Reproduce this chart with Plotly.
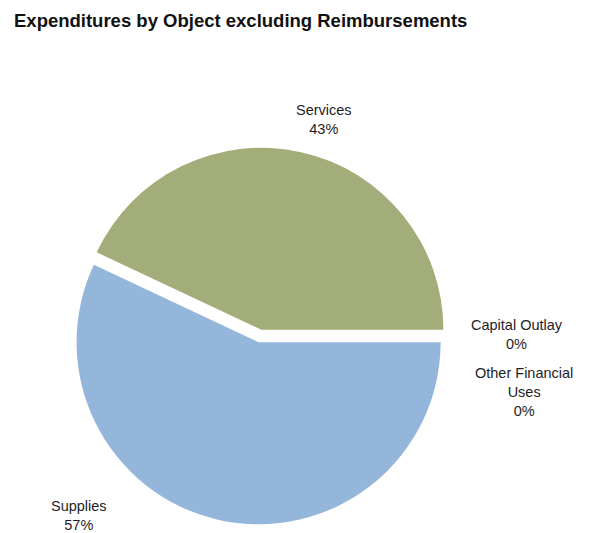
import plotly.graph_objects as go

# Spending categories and their shares of total expenditures
categories = ["Services", "Supplies", "Capital Outlay", "Other Financial Uses"]
shares = [43, 57, 0, 0]
slice_colors = ["#a2ad79", "#94b6db", "#c8a070", "#b08fc4"]

W, H = 594, 533
total = sum(shares)
FONT = "Liberation Sans, Arial, sans-serif"


def pct_label(name, value, wrap=None):
    text = name if wrap is None else wrap
    return f"{text}<br>{round(100 * value / total)}%"


# Counter-clockwise pies in plotly end their first slice at `rotation`
# (degrees clockwise from 12 o'clock); shift it so the first slice starts at 3 o'clock.
start_rotation = 90 - 360 * shares[0] / total

fig = go.Figure(
    go.Pie(
        labels=categories,
        values=shares,
        sort=False,
        direction="counterclockwise",
        rotation=start_rotation,
        pull=[0.035, 0.035, 0, 0],
        marker=dict(colors=slice_colors, line=dict(width=0)),
        textinfo="none",
        hoverinfo="label+percent",
        showlegend=False,
        domain=dict(x=[0.1205, 0.7549], y=[0.0161, 0.7231]),
    )
)

# Outside data labels (pixel anchor: centre x, top y)
label_spots = {
    "Services": (324, 100, None),
    "Supplies": (79, 496, None),
    "Capital Outlay": (517, 315, None),
    "Other Financial Uses": (524, 363, "Other Financial<br>Uses"),
}
annotations = []
for name, value in zip(categories, shares):
    px, py, wrap = label_spots[name]
    annotations.append(
        dict(
            x=px / W,
            y=1 - py / H,
            xref="paper",
            yref="paper",
            xanchor="center",
            yanchor="top",
            text=pct_label(name, value, wrap),
            showarrow=False,
            align="center",
            font=dict(family=FONT, size=14.5, color="#1e1e1e"),
        )
    )

fig.update_layout(
    width=W,
    height=H,
    margin=dict(l=0, r=0, t=0, b=0),
    paper_bgcolor="white",
    plot_bgcolor="white",
    title=dict(
        text="<b>Expenditures by Object excluding Reimbursements</b>",
        x=14 / W,
        xanchor="left",
        y=1 - 21 / H,
        yanchor="middle",
        font=dict(family=FONT, size=18.5, color="#111111"),
    ),
    annotations=annotations,
)

fig.write_html("out.html")
